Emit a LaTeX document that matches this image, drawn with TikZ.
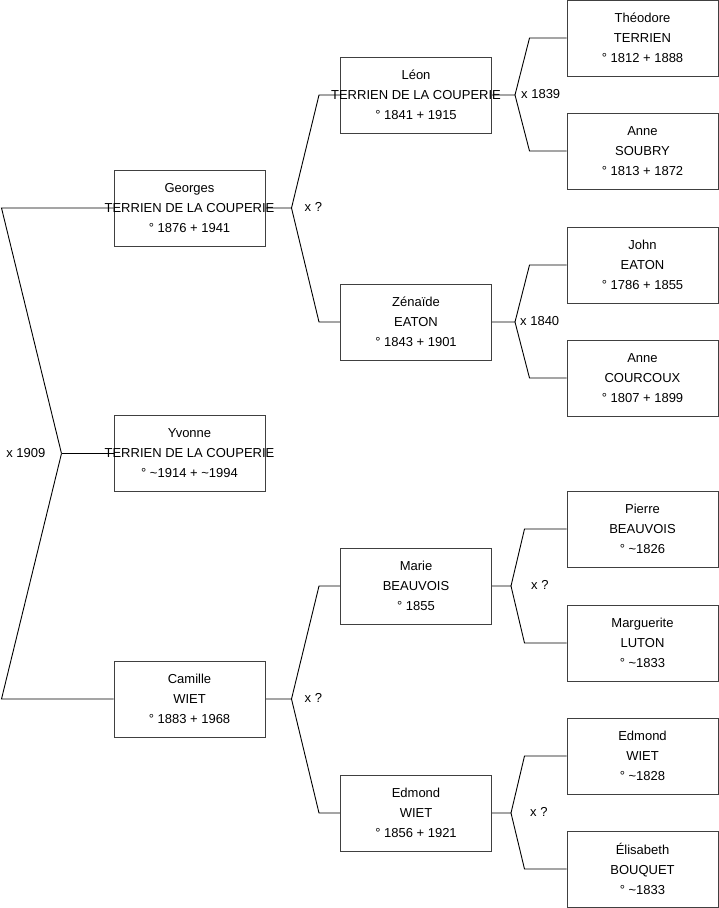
\documentclass[tikz,border=0pt]{standalone}
\usepackage{fontspec}
\setmainfont{Liberation Sans}
\usetikzlibrary{backgrounds}
\tikzset{person/.style={draw=black!75,line width=1pt,minimum width=151pt,minimum height=76pt,inner sep=0pt,align=center,font=\fontsize{13}{20}\selectfont}, link/.style={draw=black,line width=.9pt}, wed/.style={font=\fontsize{13}{16}\selectfont,inner sep=0pt}}
\newcommand{\overhang}[1]{\makebox[0pt]{#1}}
\begin{document}
\begin{tikzpicture}[x=1pt,y=-1pt]
\useasboundingbox (0,0) rectangle (719,908);
% child and parents
\node[person] (yvonne) at (189.5,453.5) {Yvonne\\\overhang{TERRIEN DE LA COUPERIE}\\° \textasciitilde1914 + \textasciitilde1994};
\node[person] (georges) at (189.5,208) {Georges\\\overhang{TERRIEN DE LA COUPERIE}\\° 1876 + 1941};
\node[person] (camille) at (189.5,699) {Camille\\WIET\\° 1883 + 1968};
% grandparents
\node[person] (leon) at (416,95) {Léon\\\overhang{TERRIEN DE LA COUPERIE}\\° 1841 + 1915};
\node[person] (zenaide) at (416,322) {Zénaïde\\EATON\\° 1843 + 1901};
\node[person] (marie) at (416,586) {Marie\\BEAUVOIS\\° 1855};
\node[person] (edmond) at (416,813) {Edmond\\WIET\\° 1856 + 1921};
% great-grandparents
\node[person] (theodore) at (642.5,38) {Théodore\\TERRIEN\\° 1812 + 1888};
\node[person] (anne) at (642.5,151) {Anne\\SOUBRY\\° 1813 + 1872};
\node[person] (john) at (642.5,265) {John\\EATON\\° 1786 + 1855};
\node[person] (annec) at (642.5,378) {Anne\\COURCOUX\\° 1807 + 1899};
\node[person] (pierre) at (642.5,529) {Pierre\\BEAUVOIS\\° \textasciitilde1826};
\node[person] (marguerite) at (642.5,643) {Marguerite\\LUTON\\° \textasciitilde1833};
\node[person] (edmondw) at (642.5,756) {Edmond\\WIET\\° \textasciitilde1828};
\node[person] (elisabeth) at (642.5,869) {Élisabeth\\BOUQUET\\° \textasciitilde1833};

\begin{scope}[on background layer]
\draw[link] (yvonne.west) -- ++(-52,0) coordinate (v0);
\draw[link] (georges.west) -- ++(-112,0) -- (v0);
\draw[link] (camille.west) -- ++(-112,0) -- (v0);
\foreach \kid/\pa/\ma/\gap/\back in {georges/leon/zenaide/26/21, camille/marie/edmond/26/21, leon/theodore/anne/23/37, zenaide/john/annec/23/37, marie/pierre/marguerite/19/42, edmond/edmondw/elisabeth/19/42}{
 \draw[link] (\pa.west) -- ++(-\back,0) -- ([xshift=\gap pt]\kid.east) -- (\kid.east);
 \draw[link] (\ma.west) -- ++(-\back,0) -- ([xshift=\gap pt]\kid.east);
}
\end{scope}

% marriages
\node[wed,anchor=east] (w-yvonne) at ([xshift=-16pt]v0) {x 1909};
\foreach \kid/\lbl/\lx in {georges/{x ?}/39, camille/{x ?}/39, leon/{x 1839}/29, zenaide/{x 1840}/28, marie/{x ?}/39, edmond/{x ?}/38}
 \node[wed,anchor=west] (w-\kid) at ([xshift=\lx pt,yshift=1pt]\kid.east) {\lbl};
\end{tikzpicture}
\end{document}
